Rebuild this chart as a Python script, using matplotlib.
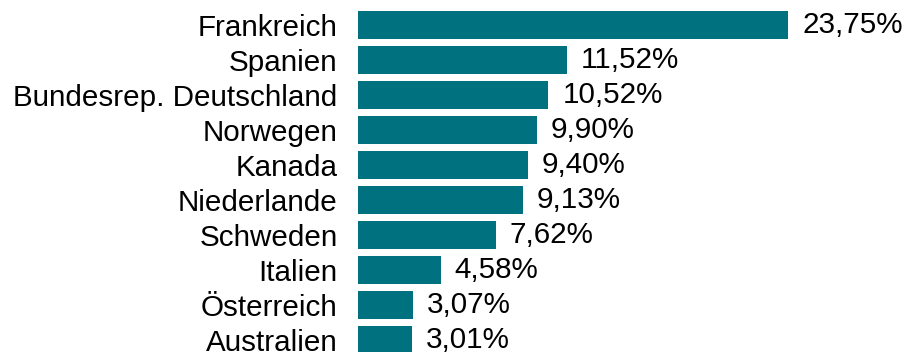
import matplotlib
matplotlib.use("Agg")
import matplotlib.pyplot as plt

# Anteile je Land
laender = ["Frankreich", "Spanien", "Bundesrep. Deutschland", "Norwegen", "Kanada",
           "Niederlande", "Schweden", "Italien", "Österreich", "Australien"]
anteile = [23.75, 11.52, 10.52, 9.90, 9.40, 9.13, 7.62, 4.58, 3.07, 3.01]

plt.rcParams["font.family"] = ["Liberation Sans", "DejaVu Sans"]
farbe = "#00717F"
groesse = 21.3

fig = plt.figure(figsize=(9.08, 3.52), dpi=100)
# Achse beginnt an der Balkenkante, reicht bis zum rechten Rand
ax = fig.add_axes([357.7 / 908, 0, 1 - 357.7 / 908, 1])

pos = list(range(len(laender)))
ax.barh(pos, anteile, height=0.8, color=farbe)

ax.set_xlim(0, 550.3 / 18.13)
ax.set_ylim((352 - 25.5) / 35, -25.5 / 35)

ax.set_yticks(pos)
ax.set_yticklabels(laender, fontsize=groesse)
ax.tick_params(axis="y", length=0, pad=14.5)
ax.set_xticks([])
for s in ax.spines.values():
    s.set_visible(False)

# Wertbeschriftung rechts neben den Balken
for i, v in enumerate(anteile):
    ax.annotate(f"{v:.2f}%".replace(".", ","), xy=(v, i), xytext=(10, 0),
                textcoords="offset points", va="center", ha="left", fontsize=groesse)

fig.savefig("out.png", dpi=100)
